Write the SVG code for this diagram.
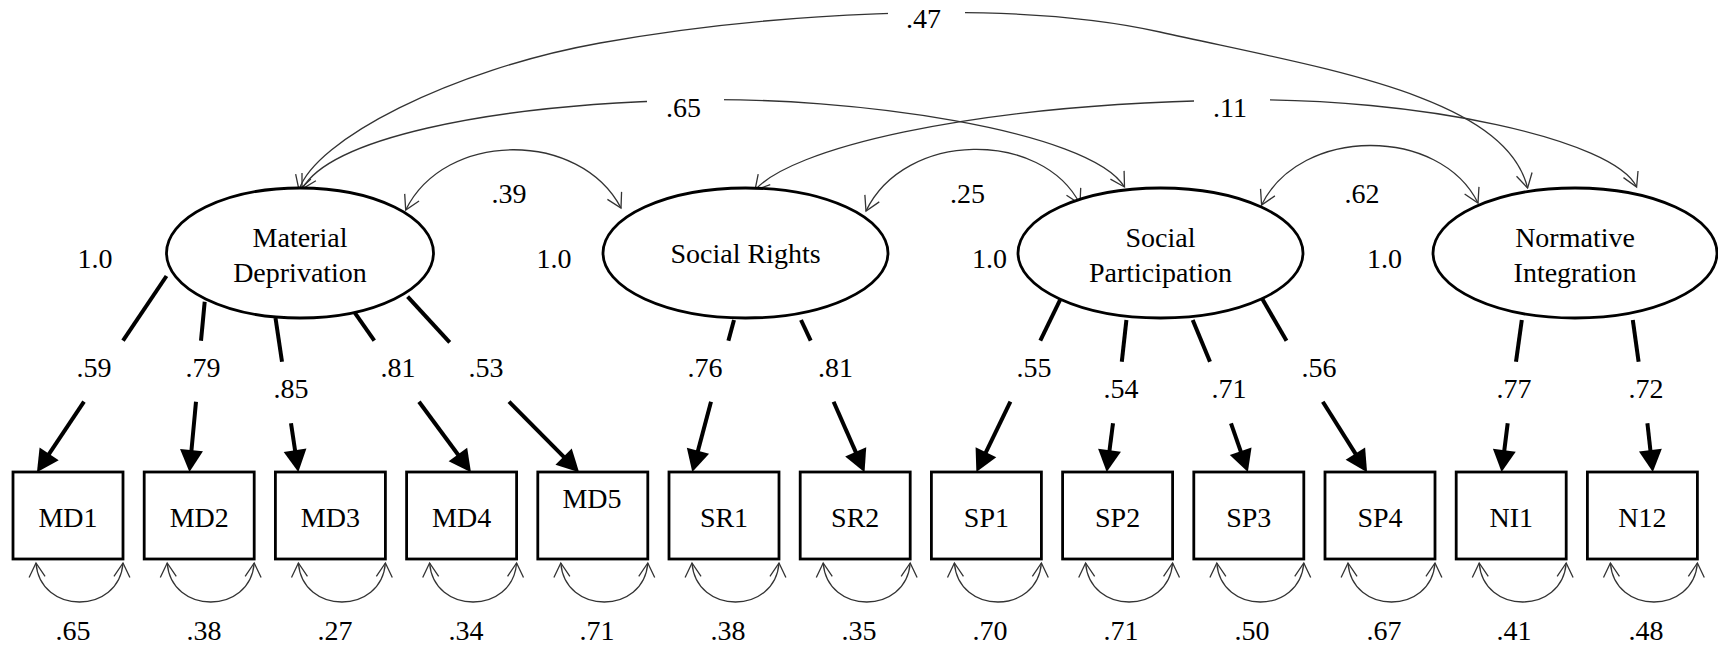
<svg xmlns="http://www.w3.org/2000/svg" width="1718" height="647" viewBox="0 0 1718 647">
<style>
text{font-family:"Liberation Serif","Times New Roman",serif;font-size:28px;fill:#000;text-anchor:middle}
.lat{fill:#fff;stroke:#000;stroke-width:2.8}
.obs{fill:#fff;stroke:#000;stroke-width:2.8}
.ld{stroke:#000;stroke-width:4;fill:none}
.cov{stroke:#333;stroke-width:1.3;fill:none;marker-start:url(#ov);marker-end:url(#ov)}
.gap{fill:#fff;stroke:none}
</style>
<defs>
<marker id="ah" markerUnits="userSpaceOnUse" viewBox="-1 -13 24 26" markerWidth="24" markerHeight="26" refX="1" refY="0" orient="auto">
<path d="M0,-11.5 L22,0 L0,11.5 Z" fill="#000"/>
</marker>
<marker id="ov" markerUnits="userSpaceOnUse" viewBox="-16 -10 18 20" markerWidth="18" markerHeight="20" refX="0" refY="0" orient="auto-start-reverse">
<path d="M-14,-8 L0,0 L-14,8" fill="none" stroke="#333" stroke-width="1.3"/>
</marker>
</defs>

<g id="connectors">
<path class="cov" d="M299,190 C315,140 450,70 600,43 C750,16 1000,-4 1160,32 C1320,68 1505,95 1527.6,188"/>
<path class="cov" d="M302,189 C330,140 480,105 690,100 C850,96 1090,130 1124.5,187"/>
<path class="cov" d="M755,190 C790,150 960,105 1230,100 C1420,96.5 1615,140 1636.6,187"/>
<path class="cov" d="M405.7,210 C445,130 580,130 621,208"/>
<path class="cov" d="M866,211 C905,130 1042,130 1080,204"/>
<path class="cov" d="M1261.6,205 C1300,126 1440,126 1478,203"/>
<rect class="gap" x="888" y="3" width="77" height="22"/>
<rect class="gap" x="647" y="90" width="77" height="22"/>
<rect class="gap" x="1194" y="90" width="76" height="22"/>
<text x="923.5" y="28">.47</text>
<text x="683.5" y="117">.65</text>
<text x="1230" y="117">.11</text>
<text x="509" y="203">.39</text>
<text x="967.5" y="203">.25</text>
<text x="1362" y="203">.62</text>

<g id="loadings">
<path class="ld" d="M166.5,276 L123,340.7"/><path class="ld" marker-end="url(#ah)" d="M84,401.7 L48.6,454.7"/>
<path class="ld" d="M204.7,301.7 L201,340.7"/><path class="ld" marker-end="url(#ah)" d="M196,401.7 L191.4,451.1"/>
<path class="ld" d="M275.5,318 L282,361.7"/><path class="ld" marker-end="url(#ah)" d="M291,423.3 L295.2,451.3"/>
<path class="ld" d="M354,311.7 L374.3,340.7"/><path class="ld" marker-end="url(#ah)" d="M419,401.7 L458.5,455.3"/>
<path class="ld" d="M407.6,296.7 L449.7,342.3"/><path class="ld" marker-end="url(#ah)" d="M509,401.7 L564.3,457.4"/>
<path class="ld" d="M734,320 L728.4,340.7"/><path class="ld" marker-end="url(#ah)" d="M711,401.7 L697.7,451.7"/>
<path class="ld" d="M801,320 L810.7,340.7"/><path class="ld" marker-end="url(#ah)" d="M833.6,401.7 L856.1,452.9"/>
<path class="ld" d="M1061,298 L1040.3,340.7"/><path class="ld" marker-end="url(#ah)" d="M1010.4,401.7 L985.5,453.2"/>
<path class="ld" d="M1126.4,320 L1121.8,361.7"/><path class="ld" marker-end="url(#ah)" d="M1113,423.3 L1109.4,451.2"/>
<path class="ld" d="M1192.7,320 L1210,361.7"/><path class="ld" marker-end="url(#ah)" d="M1231,423.3 L1241,452.2"/>
<path class="ld" d="M1261.6,297.7 L1286.5,340.7"/><path class="ld" marker-end="url(#ah)" d="M1322.8,401.7 L1355.9,454.4"/>
<path class="ld" d="M1521.8,320 L1516,361.7"/><path class="ld" marker-end="url(#ah)" d="M1507.7,423.3 L1504.2,451.2"/>
<path class="ld" d="M1632.8,320 L1638.6,361.7"/><path class="ld" marker-end="url(#ah)" d="M1647.4,423.3 L1650.5,451.1"/>
<text x="94" y="377">.59</text>
<text x="203" y="377">.79</text>
<text x="291" y="398">.85</text>
<text x="398" y="377">.81</text>
<text x="486" y="377">.53</text>
<text x="705" y="377">.76</text>
<text x="835.5" y="377">.81</text>
<text x="1034" y="377">.55</text>
<text x="1121" y="398">.54</text>
<text x="1229" y="398">.71</text>
<text x="1319" y="377">.56</text>
<text x="1514" y="398">.77</text>
<text x="1646" y="398">.72</text>
</g>

<g id="variances">
<path class="cov" d="M36,563 C40,615 119,615 123,563"/>
<path class="cov" d="M167.2,563 C171.2,615 250.2,615 254.2,563"/>
<path class="cov" d="M298.4,563 C302.4,615 381.4,615 385.4,563"/>
<path class="cov" d="M429.6,563 C433.6,615 512.6,615 516.6,563"/>
<path class="cov" d="M560.8,563 C564.8,615 643.8,615 647.8,563"/>
<path class="cov" d="M692,563 C696,615 775,615 779,563"/>
<path class="cov" d="M823.2,563 C827.2,615 906.2,615 910.2,563"/>
<path class="cov" d="M954.4,563 C958.4,615 1037.4,615 1041.4,563"/>
<path class="cov" d="M1085.6,563 C1089.6,615 1168.6,615 1172.6,563"/>
<path class="cov" d="M1216.8,563 C1220.8,615 1299.8,615 1303.8,563"/>
<path class="cov" d="M1348,563 C1352,615 1431,615 1435,563"/>
<path class="cov" d="M1479.2,563 C1483.2,615 1562.2,615 1566.2,563"/>
<path class="cov" d="M1610.4,563 C1614.4,615 1693.4,615 1697.4,563"/>
<text x="73" y="640">.65</text>
<text x="204" y="640">.38</text>
<text x="335" y="640">.27</text>
<text x="466" y="640">.34</text>
<text x="597" y="640">.71</text>
<text x="728" y="640">.38</text>
<text x="859" y="640">.35</text>
<text x="990" y="640">.70</text>
<text x="1121" y="640">.71</text>
<text x="1252" y="640">.50</text>
<text x="1384" y="640">.67</text>
<text x="1514" y="640">.41</text>
<text x="1646" y="640">.48</text>
</g>
</g>

<g id="MD">
<ellipse class="lat" cx="300" cy="253" rx="133.5" ry="65"/>
<text x="300" y="247">Material</text>
<text x="300" y="282">Deprivation</text>
<text x="95" y="268">1.0</text>
</g>
<g id="SR">
<ellipse class="lat" cx="745.5" cy="253" rx="142.5" ry="65"/>
<text x="745.5" y="263">Social Rights</text>
<text x="554" y="268">1.0</text>
</g>
<g id="SP">
<ellipse class="lat" cx="1160.5" cy="253" rx="142.5" ry="65"/>
<text x="1160.5" y="247">Social</text>
<text x="1160.5" y="282">Participation</text>
<text x="989.5" y="268">1.0</text>
</g>
<g id="NI">
<ellipse class="lat" cx="1575" cy="253" rx="142" ry="65"/>
<text x="1575" y="247">Normative</text>
<text x="1575" y="282">Integration</text>
<text x="1384.5" y="268">1.0</text>
</g>

<g id="MD1"><rect class="obs" x="13" y="472" width="110" height="87"/><text x="68" y="527">MD1</text></g>
<g id="MD2"><rect class="obs" x="144.2" y="472" width="110" height="87"/><text x="199.2" y="527">MD2</text></g>
<g id="MD3"><rect class="obs" x="275.4" y="472" width="110" height="87"/><text x="330.4" y="527">MD3</text></g>
<g id="MD4"><rect class="obs" x="406.6" y="472" width="110" height="87"/><text x="461.6" y="527">MD4</text></g>
<g id="MD5"><rect class="obs" x="537.8" y="472" width="110" height="87"/><text x="592" y="508">MD5</text></g>
<g id="SR1"><rect class="obs" x="669" y="472" width="110" height="87"/><text x="724" y="527">SR1</text></g>
<g id="SR2"><rect class="obs" x="800.2" y="472" width="110" height="87"/><text x="855.2" y="527">SR2</text></g>
<g id="SP1"><rect class="obs" x="931.4" y="472" width="110" height="87"/><text x="986.4" y="527">SP1</text></g>
<g id="SP2"><rect class="obs" x="1062.6" y="472" width="110" height="87"/><text x="1117.6" y="527">SP2</text></g>
<g id="SP3"><rect class="obs" x="1193.8" y="472" width="110" height="87"/><text x="1248.8" y="527">SP3</text></g>
<g id="SP4"><rect class="obs" x="1325" y="472" width="110" height="87"/><text x="1380" y="527">SP4</text></g>
<g id="NI1"><rect class="obs" x="1456.2" y="472" width="110" height="87"/><text x="1511.2" y="527">NI1</text></g>
<g id="N12"><rect class="obs" x="1587.4" y="472" width="110" height="87"/><text x="1642.4" y="527">N12</text></g>
</svg>
